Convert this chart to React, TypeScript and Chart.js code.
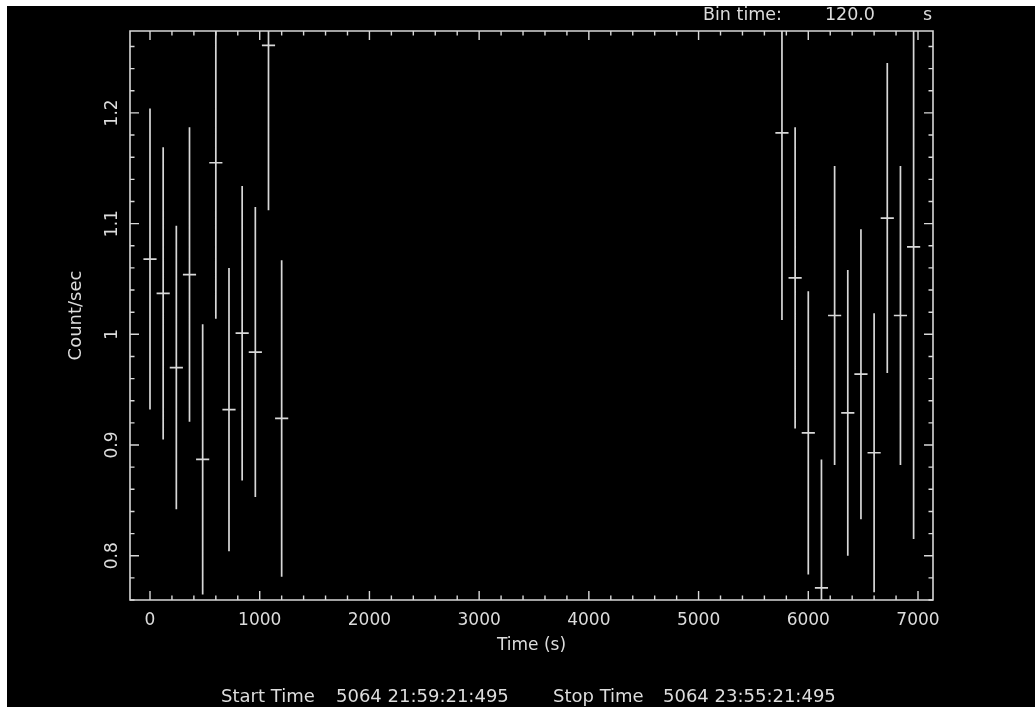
import React, { useEffect, useRef } from "react";
import { Chart, registerables } from "chart.js";

Chart.register(...registerables);

// Light curve: 120 s bins, count rate with 1-sigma errors
const BIN_SECONDS = 120;
const binTimes = [
  0, 120, 240, 360, 480, 600, 720, 840, 960, 1080, 1200,
  5760, 5880, 6000, 6120, 6240, 6360, 6480, 6600, 6720, 6840, 6960,
];
const countRates = [
  1.068, 1.037, 0.970, 1.054, 0.887, 1.155, 0.932, 1.001, 0.984, 1.261, 0.924,
  1.182, 1.051, 0.911, 0.771, 1.017, 0.929, 0.964, 0.893, 1.105, 1.017, 1.079,
];
const rateErrors = [
  0.136, 0.132, 0.128, 0.133, 0.122, 0.141, 0.128, 0.133, 0.131, 0.149, 0.143,
  0.169, 0.136, 0.128, 0.116, 0.135, 0.129, 0.131, 0.126, 0.140, 0.135, 0.264,
];

const xTickValues = [0, 1000, 2000, 3000, 4000, 5000, 6000, 7000];
const xTickLabels = ["0", "1000", "2000", "3000", "4000", "5000", "6000", "7000"];
const xMinorStep = 200;
const yTickValues = [0.8, 0.9, 1.0, 1.1, 1.2];
const yTickLabels = ["0.8", "0.9", "1", "1.1", "1.2"];
const yMinorStep = 0.02;

const X_MIN = -182.3;
const X_MAX = 7136.7;
const Y_MIN = 0.76;
const Y_MAX = 1.274;

const INK = "#d8d8d8";
const TEXT = "#dcdcdc";
const FONT = "DejaVu Sans";

const W = 1028;
const H = 701;

const frameAndTicks = {
  id: "frameAndTicks",
  afterDraw(chart: any) {
    const { ctx, chartArea: a, scales } = chart;
    const xs = scales.x;
    const ys = scales.y;
    ctx.save();
    ctx.strokeStyle = INK;
    ctx.lineWidth = 1.6;
    ctx.beginPath();
    ctx.rect(a.left, a.top, a.right - a.left, a.bottom - a.top);
    ctx.stroke();

    ctx.lineWidth = 1.4;
    ctx.beginPath();
    // x ticks, pointing inward on bottom and top
    for (let v = 0; v <= X_MAX; v += xMinorStep) {
      const px = xs.getPixelForValue(v);
      const len = v % 1000 === 0 ? 9 : 4.5;
      ctx.moveTo(px, a.bottom);
      ctx.lineTo(px, a.bottom - len);
      ctx.moveTo(px, a.top);
      ctx.lineTo(px, a.top + len);
    }
    // y ticks, pointing inward on left and right
    for (let k = Math.ceil(Y_MIN / yMinorStep); k * yMinorStep <= Y_MAX; k++) {
      const v = k * yMinorStep;
      const py = ys.getPixelForValue(v);
      const len = k % 5 === 0 ? 9 : 4.5;
      ctx.moveTo(a.left, py);
      ctx.lineTo(a.left + len, py);
      ctx.moveTo(a.right, py);
      ctx.lineTo(a.right - len, py);
    }
    ctx.stroke();

    // header and footer annotations
    ctx.fillStyle = TEXT;
    ctx.textBaseline = "middle";
    ctx.font = `17.5px ${FONT}`;
    ctx.textAlign = "left";
    ctx.fillText("Bin time:", 696, 9);
    ctx.textAlign = "right";
    ctx.fillText(BIN_SECONDS.toFixed(1), 868, 9);
    ctx.textAlign = "left";
    ctx.fillText("s", 916, 9);

    ctx.font = `18px ${FONT}`;
    ctx.fillText("Start Time", 214, 691);
    ctx.fillText("5064 21:59:21:495", 329, 691);
    ctx.fillText("Stop Time", 546, 691);
    ctx.fillText("5064 23:55:21:495", 656, 691);
    ctx.restore();
  },
};

const errorBars = {
  id: "errorBars",
  afterDatasetsDraw(chart: any) {
    const { ctx, chartArea: a, scales } = chart;
    const xs = scales.x;
    const ys = scales.y;
    ctx.save();
    ctx.beginPath();
    ctx.rect(a.left, a.top, a.right - a.left, a.bottom - a.top);
    ctx.clip();
    ctx.strokeStyle = INK;
    ctx.lineWidth = 1.7;
    ctx.beginPath();
    binTimes.forEach((t, i) => {
      const v = countRates[i];
      const e = rateErrors[i];
      const px = xs.getPixelForValue(t);
      const py = ys.getPixelForValue(v);
      ctx.moveTo(px, ys.getPixelForValue(v + e));
      ctx.lineTo(px, ys.getPixelForValue(v - e));
      ctx.moveTo(xs.getPixelForValue(t - BIN_SECONDS / 2), py);
      ctx.lineTo(xs.getPixelForValue(t + BIN_SECONDS / 2), py);
    });
    ctx.stroke();
    ctx.restore();
  },
};

export default function App() {
  const canvasRef = useRef<HTMLCanvasElement | null>(null);

  useEffect(() => {
    if (!canvasRef.current) return;
    const chart = new Chart(canvasRef.current, {
      type: "scatter",
      data: {
        datasets: [
          {
            data: binTimes.map((t, i) => ({ x: t, y: countRates[i] })),
            pointRadius: 0,
            showLine: false,
          },
        ],
      },
      options: {
        responsive: false,
        animation: false,
        devicePixelRatio: 1,
        layout: { autoPadding: false, padding: { left: 0, top: 25, right: 102, bottom: 0 } },
        plugins: { legend: { display: false }, tooltip: { enabled: false } },
        scales: {
          x: {
            type: "linear",
            min: X_MIN,
            max: X_MAX,
            grid: { display: false },
            border: { display: false },
            afterBuildTicks: (s: any) => {
              s.ticks = xTickValues.map((value) => ({ value }));
            },
            afterFit: (s: any) => {
              s.height = 107;
            },
            ticks: {
              color: TEXT,
              padding: 2.5,
              maxRotation: 0,
              autoSkip: false,
              font: { family: FONT, size: 17 },
              callback: (_v: any, i: number) => xTickLabels[i],
            },
            title: {
              display: true,
              text: "Time (s)",
              color: TEXT,
              font: { family: FONT, size: 17 },
              padding: { top: 0, bottom: 51.5 },
            },
          },
          y: {
            type: "linear",
            min: Y_MIN,
            max: Y_MAX,
            grid: { display: false },
            border: { display: false },
            afterBuildTicks: (s: any) => {
              s.ticks = yTickValues.map((value) => ({ value }));
            },
            afterFit: (s: any) => {
              s.width = 123;
            },
            ticks: {
              color: TEXT,
              padding: -4.5,
              minRotation: 90,
              maxRotation: 90,
              crossAlign: "center",
              autoSkip: false,
              font: { family: FONT, size: 17 },
              callback: (_v: any, i: number) => yTickLabels[i],
            },
            title: {
              display: true,
              text: "Count/sec",
              color: TEXT,
              font: { family: FONT, size: 18 },
              padding: { top: 59, bottom: 0 },
            },
          },
        },
      },
      plugins: [errorBars, frameAndTicks],
    } as any);
    return () => chart.destroy();
  }, []);

  return (
    <div
      style={{
        position: "absolute",
        left: 7,
        top: 6,
        width: W,
        height: H,
        background: "#000",
      }}
    >
      <canvas ref={canvasRef} width={W} height={H} style={{ display: "block", background: "#000" }} />
    </div>
  );
}
